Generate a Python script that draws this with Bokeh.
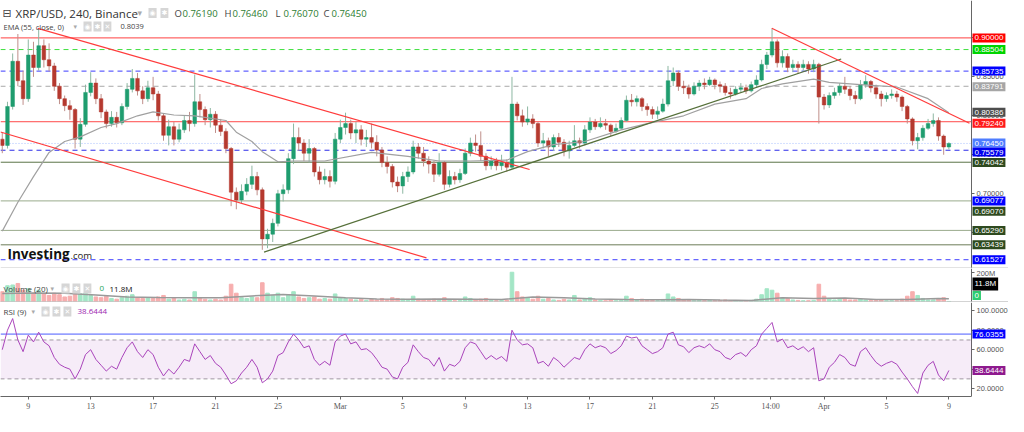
from bokeh.plotting import figure
from bokeh.layouts import column
from bokeh.models import (Span, Label, BoxAnnotation, FixedTicker, Range1d,
                          ColumnDataSource, NumeralTickFormatter)
from bokeh.embed import file_html
from bokeh.resources import INLINE

# ---------------- data (8h candles) ----------------
first_open = 0.770
closes = [0.762, 0.812, 0.870, 0.845, 0.822, 0.878, 0.862, 0.890, 0.872, 0.864,
          0.838, 0.822, 0.813, 0.808, 0.770, 0.789, 0.830, 0.842, 0.822, 0.805,
          0.790, 0.798, 0.791, 0.812, 0.834, 0.848, 0.832, 0.822, 0.836, 0.828,
          0.800, 0.775, 0.786, 0.770, 0.782, 0.794, 0.790, 0.818, 0.808, 0.795,
          0.802, 0.788, 0.780, 0.758, 0.702, 0.692, 0.703, 0.712, 0.722, 0.705,
          0.642, 0.648, 0.662, 0.700, 0.705, 0.745, 0.772, 0.765, 0.752, 0.758,
          0.728, 0.718, 0.722, 0.716, 0.770, 0.785, 0.790, 0.778, 0.782, 0.770,
          0.772, 0.766, 0.756, 0.740, 0.735, 0.715, 0.710, 0.722, 0.728, 0.760,
          0.752, 0.742, 0.738, 0.725, 0.740, 0.712, 0.722, 0.718, 0.726, 0.752,
          0.765, 0.762, 0.748, 0.736, 0.742, 0.736, 0.740, 0.734, 0.815, 0.800,
          0.792, 0.796, 0.790, 0.765, 0.768, 0.760, 0.772, 0.766, 0.755, 0.762,
          0.768, 0.765, 0.782, 0.792, 0.786, 0.790, 0.788, 0.780, 0.784, 0.794,
          0.820, 0.818, 0.822, 0.812, 0.808, 0.802, 0.806, 0.815, 0.845, 0.855,
          0.838, 0.836, 0.828, 0.838, 0.842, 0.840, 0.846, 0.840, 0.838, 0.830,
          0.828, 0.834, 0.836, 0.832, 0.840, 0.846, 0.866, 0.878, 0.895, 0.868,
          0.876, 0.862, 0.866, 0.862, 0.866, 0.860, 0.866, 0.824, 0.814, 0.826,
          0.830, 0.838, 0.834, 0.826, 0.822, 0.840, 0.844, 0.836, 0.828, 0.822,
          0.826, 0.828, 0.824, 0.812, 0.796, 0.768, 0.772, 0.784, 0.790, 0.794,
          0.774, 0.760, 0.7645]
highs = [0.778, 0.818, 0.880, 0.905, 0.858, 0.898, 0.895, 0.912, 0.898, 0.893,
         0.868, 0.842, 0.826, 0.820, 0.810, 0.797, 0.840, 0.856, 0.848, 0.828,
         0.808, 0.806, 0.805, 0.816, 0.842, 0.860, 0.855, 0.838, 0.845, 0.850,
         0.832, 0.803, 0.795, 0.792, 0.790, 0.800, 0.805, 0.853, 0.828, 0.812,
         0.810, 0.806, 0.796, 0.784, 0.760, 0.708, 0.712, 0.720, 0.736, 0.728,
         0.708, 0.655, 0.668, 0.705, 0.712, 0.752, 0.790, 0.785, 0.770, 0.770,
         0.760, 0.735, 0.732, 0.730, 0.778, 0.795, 0.804, 0.795, 0.792, 0.788,
         0.782, 0.790, 0.775, 0.760, 0.748, 0.738, 0.722, 0.728, 0.735, 0.768,
         0.765, 0.760, 0.748, 0.742, 0.752, 0.742, 0.730, 0.728, 0.732, 0.758,
         0.772, 0.776, 0.780, 0.752, 0.748, 0.746, 0.750, 0.744, 0.850, 0.818,
         0.808, 0.812, 0.802, 0.792, 0.778, 0.772, 0.776, 0.778, 0.770, 0.768,
         0.788, 0.772, 0.788, 0.798, 0.796, 0.798, 0.796, 0.790, 0.790, 0.798,
         0.826, 0.828, 0.826, 0.824, 0.816, 0.812, 0.812, 0.822, 0.864, 0.862,
         0.858, 0.845, 0.840, 0.843, 0.846, 0.848, 0.850, 0.848, 0.844, 0.842,
         0.836, 0.838, 0.842, 0.840, 0.844, 0.852, 0.872, 0.882, 0.912, 0.898,
         0.884, 0.880, 0.872, 0.870, 0.872, 0.870, 0.872, 0.868, 0.828, 0.830,
         0.836, 0.842, 0.850, 0.838, 0.832, 0.846, 0.852, 0.846, 0.840, 0.832,
         0.830, 0.834, 0.832, 0.826, 0.814, 0.798, 0.778, 0.788, 0.796, 0.803,
         0.798, 0.776, 0.766]
lows = [0.752, 0.758, 0.808, 0.838, 0.814, 0.818, 0.850, 0.858, 0.862, 0.857,
        0.832, 0.815, 0.806, 0.795, 0.758, 0.760, 0.786, 0.825, 0.815, 0.797,
        0.784, 0.786, 0.785, 0.788, 0.808, 0.830, 0.826, 0.815, 0.818, 0.820,
        0.794, 0.768, 0.762, 0.762, 0.766, 0.778, 0.780, 0.786, 0.798, 0.788,
        0.785, 0.778, 0.774, 0.752, 0.684, 0.680, 0.688, 0.698, 0.706, 0.698,
        0.628, 0.630, 0.638, 0.658, 0.690, 0.700, 0.738, 0.755, 0.742, 0.740,
        0.722, 0.712, 0.712, 0.708, 0.712, 0.765, 0.776, 0.770, 0.765, 0.762,
        0.760, 0.758, 0.748, 0.734, 0.726, 0.708, 0.702, 0.700, 0.715, 0.725,
        0.745, 0.735, 0.726, 0.715, 0.722, 0.705, 0.708, 0.712, 0.714, 0.724,
        0.748, 0.754, 0.742, 0.730, 0.731, 0.730, 0.730, 0.728, 0.732, 0.794,
        0.786, 0.788, 0.784, 0.760, 0.758, 0.748, 0.755, 0.760, 0.748, 0.745,
        0.760, 0.758, 0.762, 0.778, 0.782, 0.784, 0.782, 0.774, 0.778, 0.782,
        0.792, 0.812, 0.812, 0.806, 0.800, 0.796, 0.796, 0.804, 0.812, 0.838,
        0.832, 0.828, 0.822, 0.826, 0.832, 0.834, 0.838, 0.834, 0.830, 0.826,
        0.822, 0.826, 0.830, 0.828, 0.830, 0.836, 0.844, 0.860, 0.875, 0.862,
        0.862, 0.856, 0.856, 0.854, 0.858, 0.854, 0.856, 0.790, 0.808, 0.810,
        0.822, 0.826, 0.828, 0.820, 0.815, 0.820, 0.836, 0.830, 0.822, 0.812,
        0.818, 0.822, 0.818, 0.806, 0.790, 0.762, 0.757, 0.768, 0.782, 0.786,
        0.768, 0.750, 0.757]
opens = [first_open] + closes[:-1]

volumes = [70, 110, 115, 125, 80, 90, 60, 80, 55, 45,
           60, 50, 35, 40, 75, 55, 60, 45, 35, 30,
           40, 25, 20, 30, 40, 50, 30, 25, 30, 25,
           35, 45, 20, 25, 15, 20, 15, 70, 30, 20,
           15, 20, 15, 40, 120, 60, 30, 25, 35, 30,
           130, 60, 45, 60, 30, 50, 70, 35, 25, 30,
           35, 20, 25, 20, 55, 30, 25, 20, 15, 20,
           12, 18, 15, 25, 15, 30, 25, 20, 15, 40,
           20, 15, 12, 20, 18, 30, 15, 10, 12, 35,
           25, 15, 20, 25, 12, 10, 12, 15, 200, 70,
           35, 30, 20, 40, 20, 25, 15, 12, 20, 15,
           45, 15, 25, 30, 15, 12, 10, 15, 10, 12,
           40, 25, 15, 20, 15, 12, 10, 15, 55, 35,
           25, 15, 15, 10, 12, 10, 12, 10, 12, 15,
           10, 8, 10, 8, 12, 20, 50, 90, 80, 60,
           30, 25, 15, 12, 10, 10, 12, 120, 40, 25,
           15, 20, 25, 15, 15, 20, 15, 12, 12, 15,
           10, 10, 10, 20, 40, 70, 45, 25, 15, 15,
           20, 30, 5]

rsi = [60, 80, 92, 70, 58, 75, 68, 78, 68, 64,
       52, 45, 42, 40, 30, 40, 55, 60, 50, 44,
       38, 43, 40, 52, 62, 68, 58, 52, 60, 55,
       42, 33, 40, 35, 42, 50, 48, 66, 58, 50,
       54, 46, 42, 34, 25, 28, 36, 42, 50, 42,
       26, 30, 38, 54, 57, 68, 76, 70, 62, 64,
       50, 44, 48, 44, 68, 74, 76, 66, 68, 60,
       61, 57, 50, 42, 40, 32, 30, 42, 47, 65,
       58, 52, 50, 43, 52, 38, 45, 43, 48, 62,
       68, 66, 58, 50, 54, 50, 53, 48, 80, 70,
       65, 66, 62, 46, 48, 43, 52, 48, 42, 47,
       52, 50, 60, 66, 62, 64, 62, 56, 59, 64,
       74, 72, 73, 64, 60, 56, 58, 62, 76, 78,
       65, 63, 57, 62, 64, 62, 66, 60, 58, 52,
       50, 55, 57, 53, 60, 64, 76, 82, 88, 68,
       71, 62, 64, 60, 63, 58, 62, 28, 30, 42,
       47, 55, 52, 45, 43, 58, 62, 54, 47, 43,
       46, 48, 45, 37, 30, 22, 15, 36, 44, 48,
       34, 28, 38.6444]

ema_idx = [0, 3, 6, 9, 12, 15, 19, 22, 26, 29, 33, 37, 43, 45, 48, 50, 53, 56, 62, 71,
           78, 84, 90, 97, 101, 106, 112, 119, 124, 131, 137, 143, 146, 150, 156, 159,
           165, 172, 178, 182]
ema_val = [0.652, 0.689, 0.722, 0.753, 0.767, 0.773, 0.785, 0.790, 0.800, 0.805, 0.801,
           0.800, 0.794, 0.779, 0.767, 0.754, 0.741, 0.742, 0.742, 0.753, 0.748, 0.742,
           0.742, 0.743, 0.754, 0.763, 0.767, 0.782, 0.790, 0.800, 0.815, 0.822, 0.835,
           0.841, 0.847, 0.843, 0.840, 0.837, 0.822, 0.804]

vma_idx = [0, 6, 12, 18, 24, 30, 36, 42, 48, 54, 60, 66, 72, 78, 84, 90, 96, 102, 108,
           114, 120, 126, 132, 138, 144, 150, 156, 162, 168, 174, 180, 182]
vma_val = [58, 62, 60, 48, 35, 32, 30, 30, 42, 52, 42, 30, 22, 20, 22, 20, 18, 35, 30,
           22, 18, 17, 18, 14, 12, 30, 25, 28, 18, 18, 25, 23]

# x axis: days since Feb 9
tick_days = [0, 4, 8, 12, 16, 20, 24, 28, 32, 36, 40, 44, 47.583, 51, 55, 59]
tick_labels = ["9", "13", "17", "21", "25", "Mar", "5", "9", "13", "17", "21", "25",
               "14:00", "Apr", "5", "9"]
START_DAY = -5 / 3
STEP_DAY = 1 / 3

# drawn trend lines (day, price)
trend_x0 = [0.61, -1.78, 15.11, 47.65]
trend_y0 = [0.9123, 0.7792, 0.6250, 0.9123]
trend_x1 = [32.13, 25.52, 52.10, 60.32]
trend_y1 = [0.7311, 0.6176, 0.8729, 0.7904]
trend_colors = ["#ff3b3b", "#ff3b3b", "#56703a", "#ff3b3b"]

hline_prices = [0.90000, 0.88504, 0.85735, 0.83791, 0.79240, 0.76450, 0.75579,
                0.74042, 0.69077, 0.65290, 0.63439, 0.61527]
hline_colors = ["#ff4040", "#3fe03f", "#3b3bff", "#a8a8a8", "#ff4a4a", "#a9c0ff",
                "#2a2ae8", "#5b7347", "#9aab8c", "#9aab8c", "#6d7d58", "#3b3bff"]
hline_dash = ["solid", "5 4", "5 4", "5 4", "solid", "1 2", "5 4", "solid", "solid",
              "solid", "solid", "5 4"]

tag_text = ["0.90000", "0.88504", "0.85735", "0.83791", "0.80386", "0.79240", "0.76450",
            "0.75579", "0.74042", "0.69077", "0.69070", "0.65290", "0.63439", "0.61527"]
tag_pos = [0.9000, 0.88504, 0.85735, 0.8372, 0.8045, 0.7905, 0.7650,
           0.7535, 0.7400, 0.6908, 0.6775, 0.6529, 0.6344, 0.6153]
tag_bg = ["#ff0000", "#00d400", "#0000ff", "#a6a6a6", "#4d4d4d", "#ff1a1a", "#4f7dff",
          "#0000ee", "#2e4a1f", "#0000ff", "#2e4a1f", "#2e4a1f", "#2e4a1f", "#0000ff"]

# ---------------- layout ----------------
FW = 1008            # frame incl. the price-tag strip
DATA_W = 971         # pixels used by the data area
X0 = -1.78
AXIS_X = 60.45       # data x of the right price axis
XR = Range1d(X0, X0 + (AXIS_X - X0) * FW / DATA_W)
FH_MAIN, FH_VOL, FH_RSI = 268, 34, 94
AX_FONT = "Liberation Sans"
TAG_X = DATA_W + 1
TAG_PAD = 2


def base_fig(h, yr, xaxis=False):
    f = figure(frame_width=FW, frame_height=h, x_range=XR, y_range=yr,
               output_backend="svg", toolbar_location=None,
               y_axis_location="right", x_axis_location="below" if xaxis else None,
               min_border_left=0, min_border_right=0, min_border_top=0,
               min_border_bottom=0, background_fill_color="white",
               border_fill_color="white")
    f.grid.visible = False
    f.outline_line_color = None
    for ax in f.axis:
        ax.axis_line_color = "#666666"
        ax.major_tick_line_color = "#666666"
        ax.major_tick_out = 3
        ax.major_tick_in = 0
        ax.minor_tick_line_color = None
        ax.major_label_text_font = AX_FONT
        ax.major_label_text_font_size = "7.5px"
        ax.major_label_text_color = "#555555"
        ax.major_label_standoff = 2
    f.yaxis.fixed_location = AXIS_X
    return f


def txt(f, x, y, text, size="8px", color="#555555", font="Open Sans", style="normal",
        bg=None, yu="screen", pad=0):
    lab = Label(x=x, y=y, x_units="screen", y_units=yu, text=text,
                text_font_size=size, text_color=color, text_font=font,
                text_font_style=style, text_baseline="middle", text_align="left",
                background_fill_color=bg, padding=pad)
    f.add_layout(lab)


def icons(f, xs, y):
    for xx, sym in zip(xs, ["◉", "✱", "✕"]):
        txt(f, xx, y, sym, size="7px", color="white", font="DejaVu Sans",
            bg="#d6d6d6", pad=1)


n = len(closes)
xs = [START_DAY + i * STEP_DAY for i in range(n)]
up = [c >= o for o, c in zip(opens, closes)]
src = ColumnDataSource(dict(
    x=xs, high=highs, low=lows,
    top=[max(o, c) for o, c in zip(opens, closes)],
    bottom=[min(o, c) for o, c in zip(opens, closes)],
    body=["#1f9d6f" if u else "#b5392f" for u in up],
    wick=["#8db7a2" if u else "#bf8f8a" for u in up],
    vol=volumes,
    vcol=["#a3e6c6" if u else "#f7aeae" for u in up],
))

# ---------- main price panel ----------
p = base_fig(FH_MAIN, Range1d(0.604, 0.948))
p.yaxis.ticker = FixedTicker(ticks=[0.65, 0.70, 0.75, 0.80, 0.85, 0.90])
p.yaxis.formatter = NumeralTickFormatter(format="0.00000")

for pr, col, ds in zip(hline_prices, hline_colors, hline_dash):
    p.segment(x0=[X0], y0=[pr], x1=[AXIS_X], y1=[pr], line_color=col,
              line_width=1, line_dash=ds)
p.add_layout(Span(location=0.6046, dimension="width", line_color="#c4c4c4",
                  line_width=1))

p.segment(x0="x", y0="low", x1="x", y1="high", source=src, line_color="wick",
          line_width=1)
p.vbar(x="x", width=0.23, top="top", bottom="bottom", source=src,
       fill_color="body", line_color="body", line_width=0.5)

p.line([START_DAY + i * STEP_DAY for i in ema_idx], ema_val, line_color="#a0a0a0",
       line_width=1.2)
p.segment(x0=trend_x0, y0=trend_y0, x1=trend_x1, y1=trend_y1,
          line_color=trend_colors, line_width=1.2)

for t, yv, bg in zip(tag_text, tag_pos, tag_bg):
    txt(p, TAG_X, yv, t, size="8px", color="white", font=AX_FONT, bg=bg,
        yu="data", pad=TAG_PAD)

# headers
txt(p, 2, 255.5, "⊟", size="11px", color="#444444", font="DejaVu Sans")
txt(p, 15, 255.5, "XRP/USD, 240, Binance", size="11.5px", color="#333333")
txt(p, 137, 255.5, "▾", size="9px", color="#aaaaaa", font="DejaVu Sans")
icons(p, [148, 160], 255.5)
ohlc_keys = ["O", "H", "L", "C"]
ohlc_vals = ["0.76190", "0.76460", "0.76070", "0.76450"]
for k, v, kx in zip(ohlc_keys, ohlc_vals, [174, 224, 275, 323]):
    txt(p, kx, 255.5, k, size="9.5px", color="#444444")
    txt(p, kx + 8, 255.5, v, size="9.5px", color="#2e7d32")
txt(p, 3, 242, "EMA (55, close, 0)", size="7.5px", color="#444444")
txt(p, 73, 242, "▾", size="7px", color="#aaaaaa", font="DejaVu Sans")
icons(p, [83, 93, 103], 242)
txt(p, 120, 242, "0.8039", size="7.5px", color="#444444")
txt(p, 7, 15, "Investing", size="13.5px", color="#111111", style="bold")
txt(p, 70, 13.5, ".com", size="9.5px", color="#222222")

# ---------- volume panel ----------
v = base_fig(FH_VOL, Range1d(-2, 225))
v.yaxis.ticker = FixedTicker(ticks=[200])
v.yaxis.major_label_overrides = {200: "200M"}
v.vbar(x="x", width=0.23, top="vol", bottom=0, source=src, fill_color="vcol",
       line_color="vcol")
v.line([START_DAY + i * STEP_DAY for i in vma_idx], vma_val, line_color="#9a9a9a",
       line_width=1.5)
v.add_layout(Span(location=-1.0, dimension="width", line_color="#c4c4c4",
                  line_width=2))
txt(v, 3, 14, "Volume (20)", size="8px", color="#444444")
txt(v, 50, 14, "▾", size="7px", color="#aaaaaa", font="DejaVu Sans")
icons(v, [61, 72, 83], 14)
txt(v, 99, 14, "0", size="8px", color="#26a65b")
txt(v, 109, 14, "11.8M", size="8px", color="#111111")
txt(v, TAG_X, 122, "11.8M", size="8px", color="white", font=AX_FONT, bg="#000000",
    yu="data", pad=TAG_PAD)
txt(v, TAG_X, 44, "0", size="8px", color="white", font=AX_FONT, bg="#2ecc71",
    yu="data", pad=TAG_PAD)

# ---------- RSI panel ----------
r = base_fig(FH_RSI, Range1d(11.9, 108.5), xaxis=True)
r.yaxis.ticker = FixedTicker(ticks=[20, 40, 60, 80, 100])
r.yaxis.formatter = NumeralTickFormatter(format="0.0000")
r.xaxis.ticker = FixedTicker(ticks=tick_days)
r.xaxis.major_label_overrides = dict(zip(tick_days, tick_labels))
r.xaxis.major_label_text_font = "Liberation Sans Narrow"
r.xaxis.major_label_text_font_size = "8px"
r.xaxis.bounds = (X0, AXIS_X)
r.add_layout(BoxAnnotation(bottom=30, top=70, left=X0, right=AXIS_X,
                           fill_color="#9c27b0", fill_alpha=0.09, line_color=None))
r.segment(x0=[X0, X0], y0=[70, 30], x1=[AXIS_X, AXIS_X], y1=[70, 30],
          line_color="#a0a0a0", line_dash="4 3", line_width=1)
r.segment(x0=[X0], y0=[76.0355], x1=[AXIS_X], y1=[76.0355], line_color="#4a5cff",
          line_width=1)
r.line(xs, rsi, line_color="#ab47bc", line_width=1)
txt(r, 3, 85, "RSI (9)", size="8px", color="#444444")
txt(r, 31, 85, "▾", size="7px", color="#aaaaaa", font="DejaVu Sans")
icons(r, [41, 52, 63], 85)
txt(r, 77, 85, "38.6444", size="8px", color="#9c27b0")
txt(r, TAG_X, 76.0355, "76.0355", size="8px", color="white", font=AX_FONT,
    bg="#0000ff", yu="data", pad=TAG_PAD)
txt(r, TAG_X, 38.6444, "38.6444", size="8px", color="white", font=AX_FONT,
    bg="#8e1a8e", yu="data", pad=TAG_PAD)

layout = column(p, v, r, spacing=0)
open("out.html", "w").write(file_html(layout, INLINE))
